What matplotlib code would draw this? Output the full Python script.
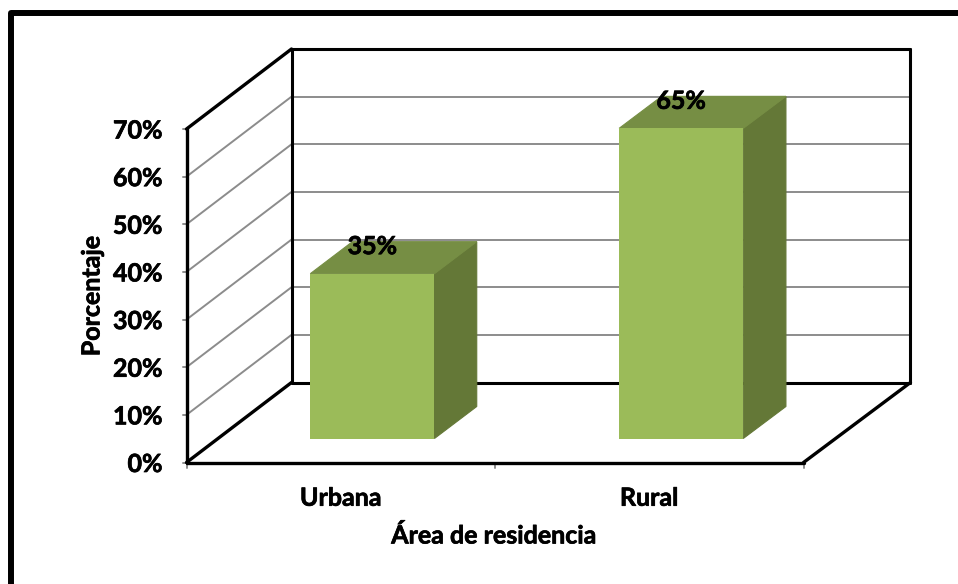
import matplotlib
matplotlib.use('Agg')
import matplotlib.pyplot as plt
import matplotlib.patheffects as pe
from matplotlib.lines import Line2D
from matplotlib.patches import Polygon

# Datos del grafico
categorias = ['Urbana', 'Rural']
porcentajes = [34.6, 65.1]
etiquetas = ['35%', '65%']
ticks_y = [0, 10, 20, 30, 40, 50, 60, 70]

plt.rcParams['font.family'] = ['Lato', 'DejaVu Sans']
plt.rcParams['font.weight'] = 'bold'
TAM = 18
# Lato bold queda mas fino que el original: un trazo leve lo engrosa
GRUESO = [pe.withStroke(linewidth=0.5, foreground='black')]

W, H = 958, 584
fig = plt.figure(figsize=(W / 100, H / 100), dpi=100)

# Ejes sobre el plano frontal; lo demas se proyecta desde aqui
x0, x1 = 186.5, 803.5
y0, y1 = 462.5, 129
ax = fig.add_axes([x0 / W, 1 - y0 / H, (x1 - x0) / W, (y0 - y1) / H])
ax.set_xlim(0, 2)
ax.set_ylim(0, 70)
ax.axis('off')

# Profundidad del grafico 3D, en unidades de datos
prof_x = 105 / ((x1 - x0) / 2)
prof_y = 80 / ((y0 - y1) / 70)


def proy(x, y, z):
    # el fondo es un poco mas ancho que el frente
    return x + z * (prof_x + 0.0032 * x), y + z * prof_y


def linea(p, q, color='black', lw=2.4, zorder=2):
    ax.plot([p[0], q[0]], [p[1], q[1]], color=color, lw=lw, zorder=zorder,
            clip_on=False, solid_capstyle='round')


# Rejilla: pared izquierda y pared del fondo
for v in ticks_y[1:-1]:
    linea(proy(0, v, 0), proy(0, v, 1), '#8c8c8c', 1.4, 1)
    linea(proy(0, v, 1), proy(2, v, 1), '#8c8c8c', 1.4, 1)

# Marcas de los ejes
for v in ticks_y:
    linea((-0.012, v), (0, v), '#8c8c8c', 1.4, 1)
    ax.annotate(f'{v}%', (0, v), xytext=(-24, -2), textcoords='offset pixels',
                ha='right', va='center', fontsize=TAM, annotation_clip=False,
                path_effects=GRUESO)
for x in [0, 1, 2]:
    linea((x, 0), (x, -1.1), '#8c8c8c', 1.4, 1)

# Contorno de las paredes
linea(proy(0, 0, 0), proy(0, 70, 0))
linea(proy(0, 70, 0), proy(0, 70, 1))
linea(proy(0, 70, 1), proy(2, 70, 1), lw=2.2)
linea(proy(2, 70, 1), proy(2, 0, 1), lw=2.2)
linea(proy(0, 70, 1), proy(0, 0, 1), lw=2.2)
linea(proy(0, 0, 1), proy(2, 0, 1), lw=2.2)
linea(proy(0, 0, 0), proy(0, 0, 1))
linea(proy(0, 0, 0), proy(2, 0, 0))
linea(proy(2, 0, 0), proy(2, 0, 1))

# Barras 3D
ancho = 0.402
z_a, z_b = 0.30, 0.70
for i, (cat, val, et) in enumerate(zip(categorias, porcentajes, etiquetas)):
    c = i + 0.5
    a, b = c - ancho / 2, c + ancho / 2
    frente = [proy(a, 0, z_a), proy(b, 0, z_a), proy(b, val, z_a), proy(a, val, z_a)]
    lado = [proy(b, 0, z_a), proy(b, 0, z_b), proy(b, val, z_b), proy(b, val, z_a)]
    tapa = [proy(a, val, z_a), proy(b, val, z_a), proy(b, val, z_b), proy(a, val, z_b)]
    # el lado y la tapa van primero, con borde, para tapar la junta con el frente
    ax.add_patch(Polygon(lado, fc='#647837', ec='#647837', lw=0.8, zorder=3, clip_on=False))
    ax.add_patch(Polygon(tapa, fc='#768e44', ec='#768e44', lw=0.8, zorder=3, clip_on=False))
    ax.add_patch(Polygon(frente, fc='#9bbb59', ec='none', zorder=3.1, clip_on=False))
    ax.annotate(et, proy(c, val, z_a), xytext=(0, 27), textcoords='offset pixels',
                ha='center', va='center', fontsize=TAM, zorder=4,
                annotation_clip=False, path_effects=GRUESO)
    ax.text(c, -7.5, cat, ha='center', va='center', fontsize=TAM, clip_on=False,
            path_effects=GRUESO)

# Titulos de los ejes
fig.text(494 / W, 1 - 536 / H, 'Área de residencia', ha='center', va='center',
         fontsize=TAM, path_effects=GRUESO)
fig.text(92 / W, 1 - 296 / H, 'Porcentaje', ha='center', va='center',
         rotation=90, fontsize=TAM, path_effects=GRUESO)

# Marco negro (superior e izquierdo)
fig.add_artist(Line2D([11 / W, 11 / W, 1], [0, 1 - 13 / H, 1 - 13 / H],
                      color='black', lw=4.3, solid_joinstyle='round'))

fig.savefig('out.png', dpi=100)
